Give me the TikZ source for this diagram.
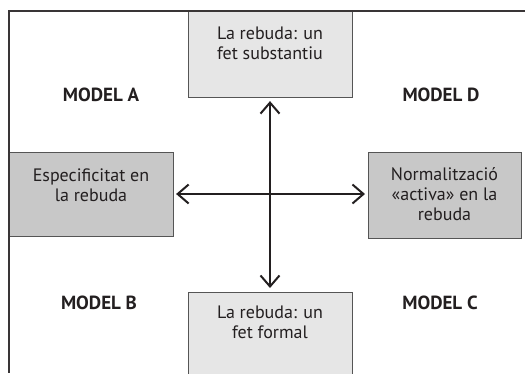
\documentclass[tikz,border=0pt]{standalone}
\usepackage{fontspec}
\setmainfont{PT Sans}
\usetikzlibrary{arrows.meta}
\definecolor{lightbox}{HTML}{E6E6E6}
\definecolor{darkbox}{HTML}{C8C8C8}
\definecolor{edge}{HTML}{555555}
\definecolor{ink}{HTML}{231F20}
\tikzset{
  boxshape/.style={draw=edge, line width=1.1pt, rectangle, inner sep=0pt, anchor=north west},
  txt/.style={align=center, font=\fontsize{18}{20}\selectfont, text=ink, inner sep=0pt},
  modellabel/.style={font=\bfseries\fontsize{19}{20}\selectfont, text=ink, inner sep=0pt},
  arr/.style={draw=ink, line width=2pt, {Straight Barb[length=11pt,width=19pt,line width=2pt]}-{Straight Barb[length=11pt,width=19pt,line width=2pt]}}
}
\begin{document}
\begin{tikzpicture}[x=1pt,y=-1pt]
\useasboundingbox (0,0) rectangle (525,373);
% boxes
\node[boxshape, fill=lightbox, minimum width=164pt, minimum height=86pt] (top) at (188,11) {};
\node[boxshape, fill=lightbox, minimum width=164pt, minimum height=90pt] (bot) at (188,292) {};
\node[boxshape, fill=darkbox, minimum width=164pt, minimum height=84pt] (lft) at (9,152) {};
\node[boxshape, fill=darkbox, minimum width=153pt, minimum height=86pt] (rgt) at (368,152) {};
% frame
\coordinate (fr) at (525,11);
\coordinate (fc) at (9,11);
\coordinate (fb) at (9,373);
\draw[draw=ink!90, line width=1.6pt] (fr) -- (fc) -- (fb);
% texts
\node[txt] (ttop) at (270,43) {La rebuda: un\\fet substantiu};
\node[txt] (tbot) at (270,322) {La rebuda: un\\fet formal};
\node[txt] (tlft) at (91,185.5) {Especificitat en\\la rebuda};
\node[txt] (trgt) at (444.5,194) {Normalització\\«activa» en la\\rebuda};
\node[modellabel] (ma) at (101,95) {MODEL A};
\node[modellabel] (md) at (441,95) {MODEL D};
\node[modellabel] (mb) at (99,303) {MODEL B};
\node[modellabel] (mc) at (440,303) {MODEL C};
% arrows
\draw[arr, shorten <=2pt, shorten >=3pt] (lft.east |- 0,194) -- (rgt.west |- 0,194);
\draw[arr, shorten <=3pt, shorten >=4pt] (top.south -| 270,0) -- (bot.north -| 270,0);
\end{tikzpicture}
\end{document}
